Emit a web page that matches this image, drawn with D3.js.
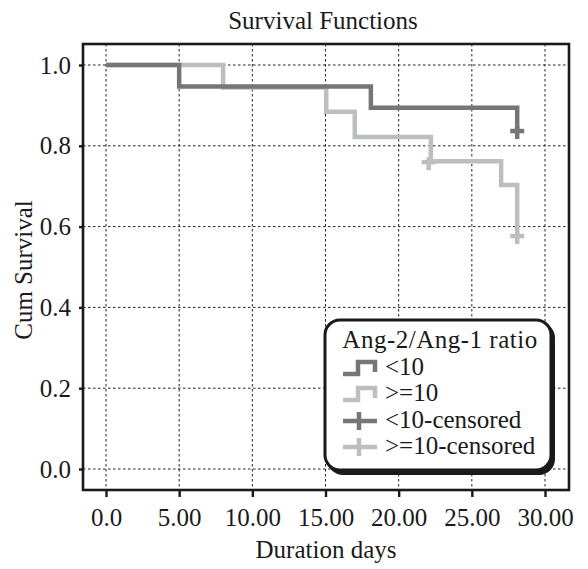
<!DOCTYPE html>
<html>
<head>
<meta charset="utf-8">
<script src="https://cdn.jsdelivr.net/npm/d3@7"></script>
<style>
  body { margin: 0; background: #fff; }
  text { font-family: "Liberation Serif", "DejaVu Serif", serif; fill: #1a1a1a; }
</style>
</head>
<body>
<div id="chart"></div>
<script>
// veriler
const xTicks = [0, 5, 10, 15, 20, 25, 30];
const yTicks = [0, 0.2, 0.4, 0.6, 0.8, 1.0];
const stepsLow = [[0, 1], [5, 0.947], [18.1, 0.894], [28.1, 0.839]];
const stepsHigh = [[0, 1], [8, 0.944], [15.05, 0.884], [17, 0.822], [22.2, 0.762], [27, 0.703], [28.1, 0.579]];
const censorLow = [[28.1, 0.839]];
const censorHigh = [[22.05, 0.762], [28.1, 0.579]];
const legendLabels = ["<10", ">=10", "<10-censored", ">=10-censored"];

const width = 588, height = 569;
const frame = { left: 83, top: 44, right: 569, bottom: 490 };
const colors = { "<10": "#76767a", ">=10": "#bdbec2" };
const fs = "25px";

const svg = d3.select("#chart").append("svg")
    .attr("width", width)
    .attr("height", height);

const x = d3.scaleLinear().domain([0, 30]).range([106, 545]);
const y = d3.scaleLinear().domain([0, 1]).range([469, 65]);

// Izgara
svg.append("g")
    .selectAll("line")
    .data(xTicks)
    .enter().append("line")
    .attr("x1", d => x(d)).attr("x2", d => x(d))
    .attr("y1", frame.top).attr("y2", frame.bottom)
    .attr("stroke", "#222").attr("stroke-width", 1)
    .attr("stroke-dasharray", "2.5,2.5");

svg.append("g")
    .selectAll("line")
    .data(yTicks)
    .enter().append("line")
    .attr("y1", d => y(d)).attr("y2", d => y(d))
    .attr("x1", frame.left).attr("x2", frame.right)
    .attr("stroke", "#222").attr("stroke-width", 1)
    .attr("stroke-dasharray", "2.5,2.5");

// Eğriler
const line = d3.line()
    .x(d => x(d[0]))
    .y(d => y(d[1]))
    .curve(d3.curveStepAfter);

const series = [
    { key: ">=10", steps: stepsHigh, censor: censorHigh },
    { key: "<10", steps: stepsLow, censor: censorLow }
];

series.forEach(s => {
    svg.append("path")
        .datum(s.steps)
        .attr("d", line)
        .attr("fill", "none")
        .attr("stroke", colors[s.key])
        .attr("stroke-width", 4.5)
        .attr("stroke-linejoin", "miter");

    const g = svg.append("g");
    s.censor.forEach(c => {
        const cx = x(c[0]), cy = y(c[1]);
        g.append("line")
            .attr("x1", cx - 7).attr("x2", cx + 7)
            .attr("y1", cy + 1).attr("y2", cy + 1)
            .attr("stroke", colors[s.key]).attr("stroke-width", 4.5);
        g.append("line")
            .attr("x1", cx).attr("x2", cx)
            .attr("y1", cy - 4).attr("y2", cy + 9)
            .attr("stroke", colors[s.key]).attr("stroke-width", 4.5);
    });
});

// Çerçeve
svg.append("rect")
    .attr("x", frame.left).attr("y", frame.top)
    .attr("width", frame.right - frame.left)
    .attr("height", frame.bottom - frame.top)
    .attr("fill", "none")
    .attr("stroke", "#1a1a1a")
    .attr("stroke-width", 2.6);

// Eksenler
const xAxis = svg.append("g")
    .attr("transform", `translate(0,${frame.bottom})`)
    .call(d3.axisBottom(x).tickValues(xTicks).tickSize(7).tickSizeOuter(0)
        .tickFormat(d => d === 0 ? "0.0" : d.toFixed(2)));
xAxis.select(".domain").remove();
xAxis.selectAll(".tick line").attr("stroke", "#1a1a1a").attr("stroke-width", 2.4);
xAxis.selectAll("text")
    .attr("y", 36).attr("dy", null)
    .style("font-size", fs)
    .style("font-family", "Liberation Serif, serif")
    .attr("fill", "#1a1a1a");

const yAxis = svg.append("g")
    .attr("transform", `translate(${frame.left},0)`)
    .call(d3.axisLeft(y).tickValues(yTicks).tickSize(4).tickSizeOuter(0)
        .tickFormat(d3.format(".1f")));
yAxis.select(".domain").remove();
yAxis.selectAll(".tick line").attr("stroke", "#1a1a1a").attr("stroke-width", 2.4);
yAxis.selectAll("text")
    .attr("x", -12)
    .style("font-size", fs)
    .style("font-family", "Liberation Serif, serif")
    .attr("fill", "#1a1a1a");

// Başlıklar
svg.append("text")
    .attr("x", 323).attr("y", 29)
    .attr("text-anchor", "middle")
    .style("font-size", fs)
    .text("Survival Functions");

svg.append("text")
    .attr("x", 326).attr("y", 558)
    .attr("text-anchor", "middle")
    .style("font-size", fs)
    .text("Duration days");

svg.append("text")
    .attr("transform", "translate(32,270) rotate(-90)")
    .attr("text-anchor", "middle")
    .style("font-size", fs)
    .text("Cum Survival");

// Lejant
const lg = svg.append("g");
lg.append("rect")
    .attr("x", 327).attr("y", 322)
    .attr("width", 228).attr("height", 153)
    .attr("rx", 16)
    .attr("fill", "#1a1a1a");
lg.append("rect")
    .attr("x", 325).attr("y", 320)
    .attr("width", 226).attr("height", 150)
    .attr("rx", 15)
    .attr("fill", "#fff")
    .attr("stroke", "#1a1a1a")
    .attr("stroke-width", 3);

lg.append("text")
    .attr("x", 440).attr("y", 348)
    .attr("text-anchor", "middle")
    .style("font-size", fs)
    .style("letter-spacing", "0.5px")
    .text("Ang-2/Ang-1 ratio");

const rowY = [375, 401, 428, 454];
legendLabels.forEach((lab, i) => {
    const key = i % 2 === 0 ? "<10" : ">=10";
    const yy = rowY[i] - 7;
    if (i < 2) {
        lg.append("path")
            .attr("d", `M343,${yy + 6} H358 V${yy - 6} H375 V${yy + 4}`)
            .attr("fill", "none")
            .attr("stroke", colors[key])
            .attr("stroke-width", 4.5);
    } else {
        lg.append("line")
            .attr("x1", 343).attr("x2", 377)
            .attr("y1", yy).attr("y2", yy)
            .attr("stroke", colors[key]).attr("stroke-width", 4.5);
        lg.append("line")
            .attr("x1", 359).attr("x2", 359)
            .attr("y1", yy - 9).attr("y2", yy + 9)
            .attr("stroke", colors[key]).attr("stroke-width", 4.5);
    }
    lg.append("text")
        .attr("x", 385).attr("y", rowY[i])
        .style("font-size", fs)
        .text(lab);
});
</script>
</body>
</html>
